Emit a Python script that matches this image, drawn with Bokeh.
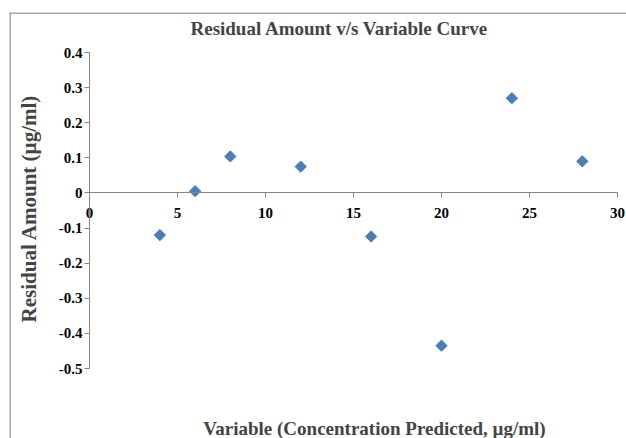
import math
from bokeh.plotting import figure
from bokeh.models import Range1d, Label, FixedTicker, Span
from bokeh.embed import file_html
from bokeh.resources import INLINE

# Data
x_values = [4, 6, 8, 12, 16, 20, 24, 28]
residuals = [-0.12, 0.005, 0.104, 0.075, -0.124, -0.435, 0.27, 0.09]
x_ticks = [0, 5, 10, 15, 20, 25, 30]
y_ticks = [-0.5, -0.4, -0.3, -0.2, -0.1, 0, 0.1, 0.2, 0.3, 0.4]

title_text = "Residual Amount v/s Variable Curve"
x_label = "Variable (Concentration Predicted, \u00b5g/ml)"
y_label = "Residual Amount (\u00b5g/ml)"

FONT = "Liberation Serif"
AXIS_COLOR = "#868686"

W, H = 626, 438
FL, FT = 9, 12  # frame left/top offset
x0_px, x30_px = 89, 617
y04_px, ym05_px = 52, 368

xs = (x30_px - x0_px) / 30.0
ys = (ym05_px - y04_px) / 0.9
x_start = 0 - (x0_px - FL) / xs
x_end = 30 + (W - x30_px) / xs
y_end = 0.4 + (y04_px - FT) / ys
y_start = -0.5 - (H - ym05_px) / ys

p = figure(width=W, height=H, output_backend="svg", toolbar_location=None,
           x_range=Range1d(x_start, x_end), y_range=Range1d(y_start, y_end),
           min_border_left=FL, min_border_top=FT, min_border_right=0, min_border_bottom=0)
p.grid.visible = False
p.background_fill_color = "white"
p.border_fill_color = "white"
p.outline_line_color = None

# outer chart border (left and top edges visible)
p.add_layout(Span(location=0.5, location_units="screen", dimension="height",
                  line_color="#8c8c8c", line_width=1.5))
p.add_layout(Span(location=(H - FT) - 0.5, location_units="screen", dimension="width",
                  line_color="#8c8c8c", line_width=1.5))

for ax in (p.xaxis[0], p.yaxis[0]):
    ax.fixed_location = 0
    ax.axis_line_color = AXIS_COLOR
    ax.major_tick_line_color = AXIS_COLOR
    ax.minor_tick_line_color = None
    ax.major_tick_in = 0
    ax.major_tick_out = 5
    ax.major_label_text_font = FONT
    ax.major_label_text_font_style = "bold"
    ax.major_label_text_font_size = "15px"
    ax.major_label_text_color = "black"

p.xaxis[0].bounds = (0, 30)
p.yaxis[0].bounds = (-0.5, 0.4)
p.xaxis[0].ticker = FixedTicker(ticks=x_ticks)
p.yaxis[0].ticker = FixedTicker(ticks=y_ticks)
p.xaxis[0].major_label_overrides = {t: str(t) for t in x_ticks}
p.yaxis[0].major_label_overrides = {t: ("0" if t == 0 else f"{t:.1f}") for t in y_ticks}
p.xaxis[0].major_label_standoff = 10
p.yaxis[0].major_label_standoff = 2

p.scatter(x_values, residuals, marker="square", angle=math.pi / 4, size=8,
          fill_color="#4a7ebb", line_color="#4a7ebb")

p.add_layout(Label(x=339 - FL, y=H - 28, x_units="screen", y_units="screen",
                   text=title_text, text_font=FONT, text_font_style="bold",
                   text_font_size="19px", text_align="center", text_baseline="middle"))
p.add_layout(Label(x=374 - FL, y=H - 428, x_units="screen", y_units="screen",
                   text=x_label, text_font=FONT, text_font_style="bold",
                   text_font_size="19px", text_align="center", text_baseline="middle"))
p.add_layout(Label(x=28 - FL, y=H - 208, x_units="screen", y_units="screen",
                   text=y_label, text_font=FONT, text_font_style="bold",
                   text_font_size="21px", text_align="center", text_baseline="middle",
                   angle=math.pi / 2))

open("out.html", "w").write(file_html(p, INLINE))
